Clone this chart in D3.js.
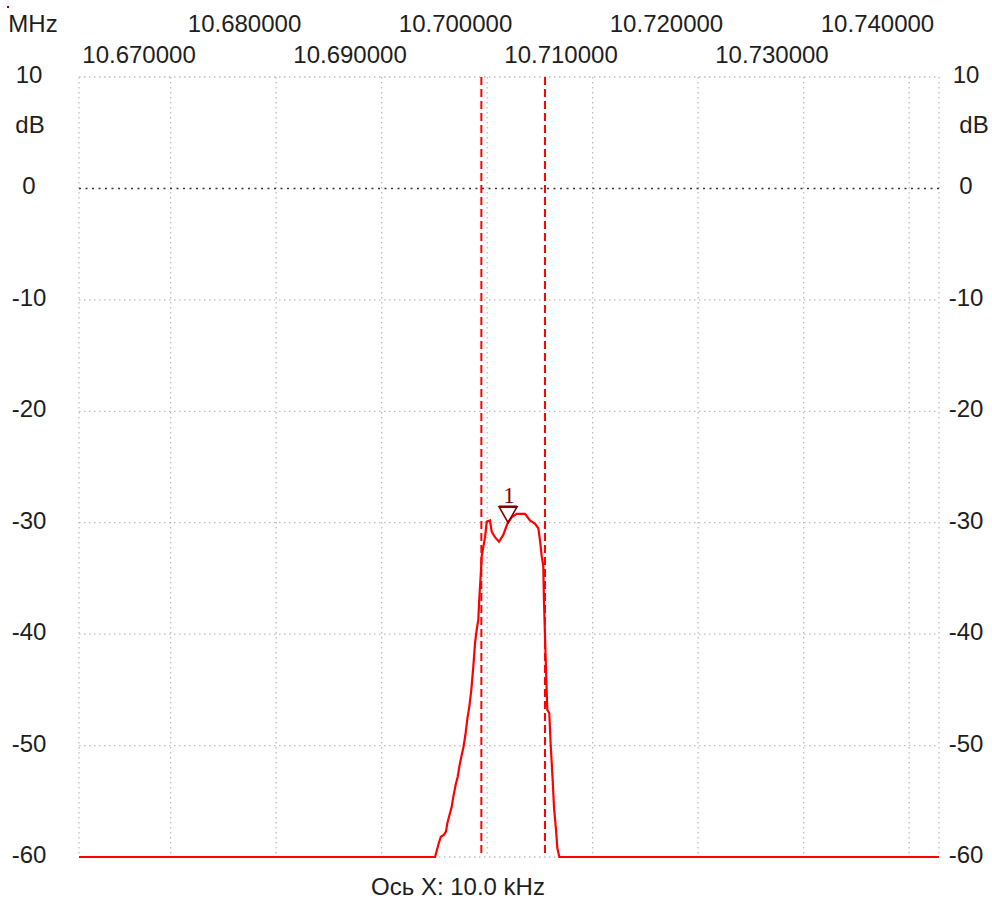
<!DOCTYPE html>
<html>
<head>
<meta charset="utf-8">
<script src="https://cdn.jsdelivr.net/npm/d3@7"></script>
<style>
  html, body { margin: 0; padding: 0; background: #fff; }
  svg text { font-family: "Liberation Sans", Arial, sans-serif; font-size: 24px; fill: #1e1e1e; }
</style>
</head>
<body>
<svg id="chart" width="992" height="902"></svg>
<script>
  // sweep
  const freqMHz = [
    10.66431, 10.69806, 10.69837, 10.69860, 10.69891, 10.69910, 10.69922, 10.69941,
    10.69964, 10.69979, 10.70002, 10.70021, 10.70036, 10.70055, 10.70074, 10.70093,
    10.70112, 10.70131, 10.70150, 10.70169, 10.70185, 10.70201, 10.70216, 10.70225,
    10.70242, 10.70248, 10.70280, 10.70296, 10.70327, 10.70343, 10.70374, 10.70412,
    10.70453, 10.70491, 10.70533, 10.70580, 10.70659, 10.70706, 10.70754, 10.70785,
    10.70801, 10.70817, 10.70832, 10.70839, 10.70858, 10.70870, 10.70889, 10.70902,
    10.70921, 10.70934, 10.70953, 10.70965, 10.70984, 10.74583
  ];
  const levelDb = [
    -60, -60, -58.9, -58.2, -58.0, -57.7, -57.0, -56.3,
    -55.5, -54.6, -53.5, -52.8, -51.9, -51.0, -50.2, -49.1,
    -47.6, -46.5, -45.0, -42.9, -40.8, -39.6, -38.7, -36.9,
    -34.2, -33.0, -31.3, -29.9, -29.8, -30.8, -31.3, -31.7,
    -31.1, -30.1, -29.5, -29.2, -29.2, -29.8, -30.1, -30.5,
    -31.6, -33.0, -33.9, -37.2, -43.2, -46.8, -47.1, -49.9,
    -53.1, -55.6, -57.6, -59.2, -60, -60
  ];

  const labelFreqs = [10.67, 10.68, 10.69, 10.70, 10.71, 10.72, 10.73, 10.74];
  const gridFreqs = [10.673, 10.683, 10.693, 10.703, 10.713, 10.723, 10.733, 10.743];
  const dbTicks = [10, 0, -10, -20, -30, -40, -50, -60];
  const cursorFreqs = [10.70245, 10.70848];
  const markerFreq = 10.70498;
  const markerDb = -30.0;

  const svg = d3.select("#chart");
  const plot = { left: 79, right: 939, top: 77, bottom: 857 };

  const x = d3.scaleLinear().domain([10.66431, 10.74583]).range([plot.left, plot.right]);
  const y = d3.scaleLinear().domain([-60, 10]).range([plot.bottom, plot.top]);

  // grid
  const grid = svg.append("g").attr("class", "grid")
    .attr("stroke", "#bdbdbd").attr("stroke-width", 1.3).attr("stroke-dasharray", "1.5,3.5");

  grid.selectAll("line.v")
    .data([x.domain()[0]].concat(gridFreqs, [x.domain()[1]]))
    .enter().append("line")
    .attr("x1", d => x(d)).attr("x2", d => x(d))
    .attr("y1", plot.top).attr("y2", plot.bottom);

  grid.selectAll("line.h")
    .data(dbTicks.filter(d => d !== 0))
    .enter().append("line")
    .attr("x1", plot.left).attr("x2", plot.right)
    .attr("y1", d => y(d)).attr("y2", d => y(d));

  // 0 dB reference line is darker
  svg.append("line")
    .attr("x1", plot.left).attr("x2", plot.right)
    .attr("y1", y(0)).attr("y2", y(0))
    .attr("stroke", "#333").attr("stroke-width", 1.5).attr("stroke-dasharray", "2,4.5");

  // y labels, both sides
  [29, 966].forEach(tx => {
    svg.append("g").selectAll("text")
      .data(dbTicks)
      .enter().append("text")
      .attr("x", tx).attr("y", d => y(d) + 6)
      .attr("text-anchor", "middle")
      .text(d => d);
    svg.append("text")
      .attr("x", tx + (tx > 500 ? 8 : 1)).attr("y", y(5))
      .attr("text-anchor", "middle")
      .text("dB");
  });

  // frequency labels in two staggered rows
  svg.append("g").selectAll("text")
    .data(labelFreqs)
    .enter().append("text")
    .attr("x", d => x(d))
    .attr("y", (d, i) => i % 2 === 0 ? 63 : 32)
    .attr("text-anchor", "middle")
    .text(d => d3.format(".6f")(d));

  svg.append("text").attr("x", 33).attr("y", 32).attr("text-anchor", "middle").text("MHz");
  svg.append("text").attr("x", 458).attr("y", 895).attr("text-anchor", "middle").text("Ось X: 10.0 kHz");

  svg.append("rect").attr("x", 7).attr("y", 6).attr("width", 2).attr("height", 2).attr("fill", "#900000");

  // cursor lines
  svg.append("g").selectAll("line")
    .data(cursorFreqs)
    .enter().append("line")
    .attr("x1", d => x(d)).attr("x2", d => x(d))
    .attr("y1", plot.top).attr("y2", plot.bottom)
    .attr("stroke", "#ff0000").attr("stroke-width", 2).attr("stroke-dasharray", "8,4");

  // response curve
  const pts = freqMHz.map((f, i) => [f, levelDb[i]]);
  svg.append("path")
    .datum(pts)
    .attr("fill", "none")
    .attr("stroke", "#ff0000")
    .attr("stroke-width", 2.2)
    .attr("d", d3.line().x(d => x(d[0])).y(d => y(d[1])));

  // marker 1
  const mx = x(markerFreq), my = y(markerDb);
  svg.append("path")
    .attr("d", `M${mx - 9},${my - 16} L${mx + 9},${my - 16} L${mx},${my} Z`)
    .attr("fill", "none").attr("stroke", "#800000").attr("stroke-width", 1.6);
  svg.append("line")
    .attr("x1", mx - 9).attr("x2", mx + 9).attr("y1", my - 16).attr("y2", my - 16)
    .attr("stroke", "#800000").attr("stroke-width", 2.5);
  svg.append("text")
    .attr("x", mx + 1).attr("y", my - 20)
    .attr("text-anchor", "middle")
    .style("font-family", "'Liberation Serif', serif")
    .style("font-size", "23px")
    .style("fill", "#800000")
    .text("1");
</script>
</body>
</html>
